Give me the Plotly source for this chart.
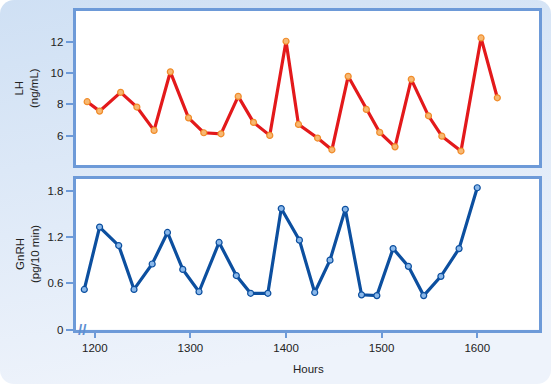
import base64
import plotly.graph_objects as go
from plotly.subplots import make_subplots

# ---- data ----
lh_hours = [1192, 1205, 1227, 1244, 1262, 1279, 1298, 1314, 1332, 1350, 1366, 1383, 1400,
            1413, 1433, 1448, 1465, 1484, 1498, 1514, 1531, 1549, 1563, 1583, 1604, 1621]
lh_values = [8.17, 7.57, 8.77, 7.83, 6.34, 10.08, 7.14, 6.19, 6.12, 8.51, 6.85, 6.02, 12.03,
             6.72, 5.85, 5.10, 9.79, 7.68, 6.21, 5.29, 9.60, 7.27, 5.97, 5.02, 12.24, 8.42]

gnrh_hours = [1189, 1205, 1225, 1241, 1260, 1276, 1292, 1309, 1330, 1348, 1363, 1381, 1395,
              1414, 1430, 1446, 1462, 1479, 1495, 1512, 1528, 1544, 1562, 1581, 1600]
gnrh_values = [0.52, 1.33, 1.09, 0.52, 0.85, 1.26, 0.78, 0.49, 1.13, 0.70, 0.47, 0.47, 1.57,
               1.16, 0.48, 0.90, 1.56, 0.45, 0.44, 1.05, 0.82, 0.44, 0.69, 1.05, 1.84]

x_ticks = [1200, 1300, 1400, 1500, 1600]
lh_ticks = [6, 8, 10, 12]
gnrh_ticks = [0, 0.6, 1.2, 1.8]
gnrh_ticktext = ["0", "0.6", "1.2", "1.8"]

W, H = 551, 384
BOX = "#6d9ad8"
TXT = "#222222"
FONT = "Liberation Sans, Arial, sans-serif"

fig = make_subplots(rows=2, cols=1)

fig.add_trace(go.Scatter(
    x=lh_hours, y=lh_values, mode="lines+markers",
    line=dict(color="#e3191b", width=3.2),
    marker=dict(size=6, color="#f7b872", line=dict(color="#f08c2a", width=1.2)),
    showlegend=False), row=1, col=1)

fig.add_trace(go.Scatter(
    x=gnrh_hours, y=gnrh_values, mode="lines+markers",
    line=dict(color="#0c4f9f", width=3.2),
    marker=dict(size=6, color="#8ab8ea", line=dict(color="#0c4f9f", width=1.2)),
    showlegend=False), row=2, col=1)

xr = [1179.8, 1664.6]
common_axis = dict(showline=True, linecolor=BOX, linewidth=2.6, mirror=True,
                   showgrid=False, zeroline=False, automargin=False,
                   tickcolor=BOX, tickwidth=1.5,
                   tickfont=dict(family=FONT, size=11.5, color=TXT))

fig.update_xaxes(common_axis)
fig.update_yaxes(common_axis)

fig.update_xaxes(row=1, col=1, range=xr, domain=[75.5 / W, 539 / W],
                 showticklabels=False, ticks="")
fig.update_xaxes(row=2, col=1, range=xr, domain=[75.5 / W, 539 / W],
                 tickvals=x_ticks, ticks="outside", ticklen=6)
fig.update_yaxes(row=1, col=1, range=[4.13, 13.96],
                 domain=[(H - 165) / H, (H - 11) / H],
                 tickvals=lh_ticks, ticks="outside", ticklen=7)
fig.update_yaxes(row=2, col=1, range=[0, 1.96],
                 domain=[(H - 329.5) / H, (H - 178.5) / H],
                 tickvals=gnrh_ticks, ticktext=gnrh_ticktext,
                 ticks="outside", ticklen=7)

# background: rounded panel with a soft vertical gradient
svg = f'''<svg xmlns="http://www.w3.org/2000/svg" width="{W}" height="{H}" viewBox="0 0 {W} {H}">
<defs><linearGradient id="g" x1="0" y1="0" x2="0.25" y2="1">
<stop offset="0" stop-color="#cfe0f4"/><stop offset="1" stop-color="#eef3fb"/></linearGradient></defs>
<rect x="0" y="0" width="{W}" height="{H}" rx="14" ry="14" fill="url(#g)"/></svg>'''
src = "data:image/svg+xml;base64," + base64.b64encode(svg.encode()).decode()

# white plot areas drawn over the gradient
panel_shapes = [
    dict(type="rect", xref="x domain", yref="y domain", x0=0, x1=1, y0=0, y1=1,
         fillcolor="white", line=dict(width=0), layer="below"),
    dict(type="rect", xref="x2 domain", yref="y2 domain", x0=0, x1=1, y0=0, y1=1,
         fillcolor="white", line=dict(width=0), layer="below"),
]

title_font = dict(family=FONT, size=11.5, color=TXT)
fig.update_layout(
    width=W, height=H,
    margin=dict(l=0, r=0, t=0, b=0),
    paper_bgcolor="white", plot_bgcolor="white",
    font=dict(family=FONT, size=11.5, color=TXT),
    images=[dict(source=src, xref="paper", yref="paper", x=0, y=1,
                 sizex=1, sizey=1, sizing="stretch", layer="below",
                 xanchor="left", yanchor="top")],
    shapes=panel_shapes,
    annotations=[
        dict(text="LH<br>(ng/mL)", x=27 / W, y=1 - 88 / H, xref="paper", yref="paper",
             xanchor="center", yanchor="middle",
             textangle=-90, showarrow=False, font=title_font),
        dict(text="GnRH<br>(pg/10 min)", x=27 / W, y=1 - 254 / H, xref="paper", yref="paper",
             xanchor="center", yanchor="middle",
             textangle=-90, showarrow=False, font=title_font),
        dict(text="Hours", x=308 / W, y=1 - 369 / H, xref="paper", yref="paper",
             xanchor="center", yanchor="middle",
             showarrow=False, font=title_font),
        dict(text="<b>//</b>", x=82 / W, y=1 - 329.5 / H, xref="paper", yref="paper",
             xanchor="center", yanchor="middle",
             showarrow=False, font=dict(family=FONT, size=15, color="#5f8fd2")),
    ],
)

fig.write_html("out.html", config={"displayModeBar": False},
               post_script="document.body.style.margin='0';")
